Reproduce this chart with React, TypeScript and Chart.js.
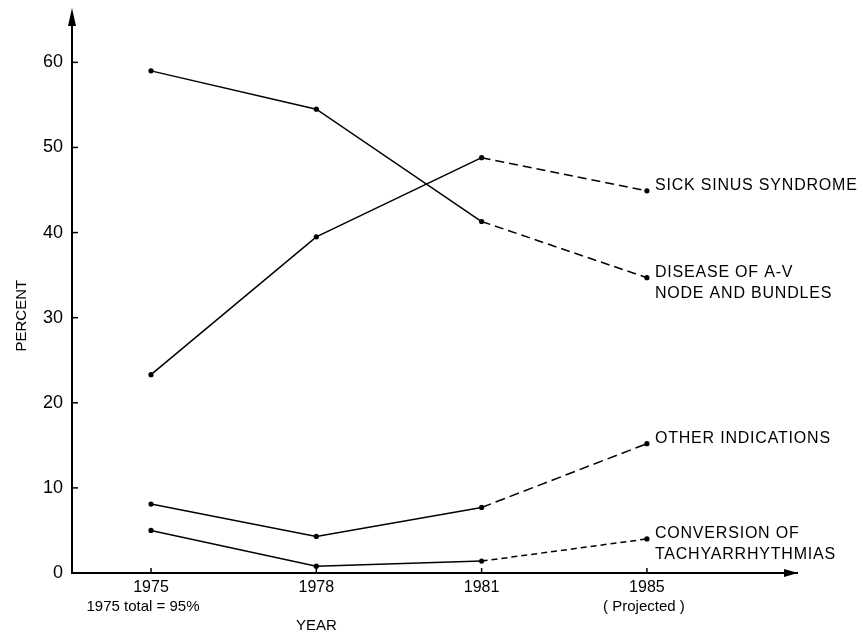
import React, { useEffect, useRef } from "react";
import { Chart, registerables } from "chart.js";

Chart.register(...registerables);

// ---- data ----
const years = ["1975", "1978", "1981", "1985"];
const subLabels = ["1975 total = 95%", "", "", "( Projected )"];
const yTickValues = [0, 10, 20, 30, 40, 50, 60];

const sickSinus = [23.3, 39.5, 48.8, 44.9];
const avDisease = [59.0, 54.5, 41.3, 34.7];
const otherIndications = [8.1, 4.3, 7.7, 15.2];
const conversion = [5.0, 0.8, 1.4, 4.0];

const seriesNames = [
  ["SICK SINUS SYNDROME"],
  ["DISEASE OF A-V", "NODE AND BUNDLES"],
  ["OTHER INDICATIONS"],
  ["CONVERSION OF", "TACHYARRHYTHMIAS"],
];
const seriesValues = [sickSinus, avDisease, otherIndications, conversion];
const dashPatterns = [[9, 5], [9, 5], [10, 5], [6, 4]];

const FONT = "'Liberation Sans', Arial, sans-serif";

const decorPlugin = {
  id: "decor",
  afterDraw(chart: any) {
    const { ctx, chartArea } = chart;
    const xs = chart.scales.x;
    const ys = chart.scales.y;
    ctx.save();
    ctx.fillStyle = "#000";
    ctx.strokeStyle = "#000";

    // y axis extension + arrow head
    const ax = chartArea.left;
    const tip = 8;
    ctx.lineWidth = 2;
    ctx.beginPath();
    ctx.moveTo(ax, chartArea.top + 1);
    ctx.lineTo(ax, tip + 10);
    ctx.stroke();
    ctx.beginPath();
    ctx.moveTo(ax, tip);
    ctx.lineTo(ax - 4, tip + 18);
    ctx.lineTo(ax + 4, tip + 18);
    ctx.closePath();
    ctx.fill();
    // x axis arrow head
    const ay = chartArea.bottom;
    ctx.beginPath();
    ctx.moveTo(chartArea.right + 1, ay);
    ctx.lineTo(chartArea.right - 13, ay - 4);
    ctx.lineTo(chartArea.right - 13, ay + 4);
    ctx.closePath();
    ctx.fill();

    // inner tick marks
    ctx.lineWidth = 1.5;
    yTickValues.forEach((v) => {
      if (v === 0) return;
      const py = ys.getPixelForValue(v);
      ctx.beginPath();
      ctx.moveTo(ax, py);
      ctx.lineTo(ax + 6, py);
      ctx.stroke();
    });
    years.forEach((_, i) => {
      const px = xs.getPixelForValue(i);
      ctx.beginPath();
      ctx.moveTo(px, ay);
      ctx.lineTo(px, ay - 5);
      ctx.stroke();
    });

    // sub labels under x ticks
    ctx.font = `15px ${FONT}`;
    ctx.textAlign = "center";
    ctx.textBaseline = "middle";
    subLabels.forEach((s, i) => {
      if (!s) return;
      const px = xs.getPixelForValue(i) + (i === 0 ? -8 : -3);
      ctx.fillText(s, px, ay + 34);
    });

    // axis titles
    ctx.font = `15px ${FONT}`;
    ctx.fillText("YEAR", xs.getPixelForValue(1), ay + 53);
    ctx.save();
    ctx.translate(22, ys.getPixelForValue(30) - 2);
    ctx.rotate(-Math.PI / 2);
    ctx.fillText("PERCENT", 0, 0);
    ctx.restore();

    // series labels at the right
    ctx.font = `16px ${FONT}`;
    ctx.textAlign = "left";
    try {
      (ctx as any).letterSpacing = "0.8px";
    } catch (e) {}
    seriesValues.forEach((vals, si) => {
      const last = vals.length - 1;
      const px = xs.getPixelForValue(last) + 8;
      const py = ys.getPixelForValue(vals[last]);
      seriesNames[si].forEach((line, li) => {
        ctx.fillText(line, px, py - 5 + li * 21);
      });
    });
    ctx.restore();
  },
};

export default function App() {
  const canvasRef = useRef<HTMLCanvasElement | null>(null);

  useEffect(() => {
    const canvas = canvasRef.current;
    if (!canvas) return;
    const datasets = seriesValues.map((vals, si) => ({
      label: seriesNames[si].join(" "),
      data: vals.map((v, i) => ({ x: i, y: v })),
      borderColor: "#000",
      backgroundColor: "#000",
      borderWidth: 1.5,
      pointRadius: 2.6,
      pointHoverRadius: 2.6,
      pointBackgroundColor: "#000",
      pointBorderWidth: 0,
      tension: 0,
      segment: {
        borderDash: (c: any) => (c.p0DataIndex >= 2 ? dashPatterns[si] : undefined),
      },
    }));

    const chart = new Chart(canvas, {
      type: "line",
      data: { datasets },
      options: {
        animation: false,
        responsive: true,
        maintainAspectRatio: false,
        layout: { padding: { top: 0, right: 66, left: 0, bottom: 0 } },
        plugins: {
          legend: { display: false },
          tooltip: { enabled: false },
          title: { display: false },
        },
        scales: {
          x: {
            type: "linear",
            min: -0.478,
            max: 3.908,
            afterBuildTicks: (scale: any) => {
              scale.ticks = years.map((_, i) => ({ value: i }));
            },
            afterFit: (scale: any) => {
              scale.height = 61;
            },
            ticks: {
              color: "#000",
              font: { family: FONT, size: 16 },
              padding: 5,
              maxRotation: 0,
              autoSkip: false,
              callback: (v: any) => years[v] ?? "",
            },
            grid: { display: false, drawTicks: false },
            border: { display: true, color: "#000", width: 2 },
          },
          y: {
            type: "linear",
            min: 0,
            max: 65,
            afterBuildTicks: (scale: any) => {
              scale.ticks = yTickValues.map((v) => ({ value: v }));
            },
            afterFit: (scale: any) => {
              scale.width = 72;
            },
            ticks: {
              color: "#000",
              font: { family: FONT, size: 18 },
              padding: 9,
              callback: (v: any) => String(v),
            },
            grid: { display: false, drawTicks: false },
            border: { display: true, color: "#000", width: 2 },
          },
        },
      },
      plugins: [decorPlugin],
    } as any);

    return () => chart.destroy();
  }, []);

  return (
    <div
      style={{
        position: "fixed",
        left: 0,
        top: 0,
        width: 863,
        height: 634,
        background: "#fff",
      }}
    >
      <canvas ref={canvasRef} />
    </div>
  );
}
